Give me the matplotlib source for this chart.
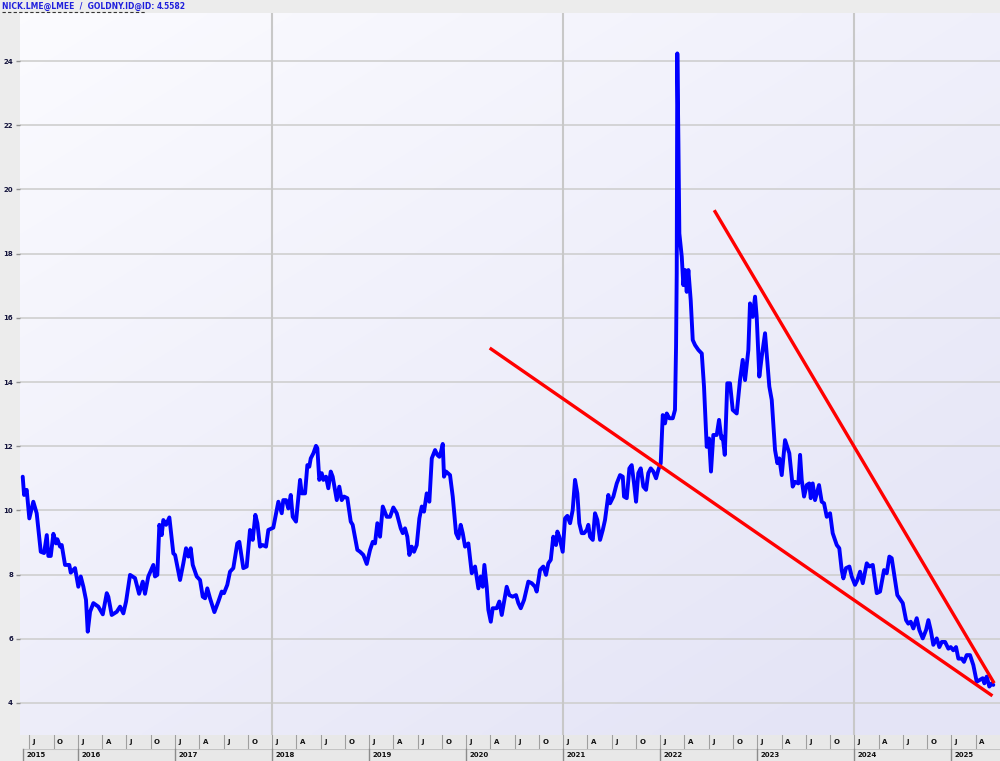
import numpy as np
import matplotlib.pyplot as plt
from matplotlib.patches import Rectangle
from matplotlib.lines import Line2D

# nickel / gold ratio (decimal years)
dates = [
    2015.431, 2015.445, 2015.472, 2015.499, 2015.540, 2015.575, 2015.617, 2015.651, 2015.679, 2015.695,
    2015.720, 2015.747, 2015.774, 2015.788, 2015.816, 2015.833, 2015.867, 2015.911, 2015.926, 2015.970,
    2016.004, 2016.029, 2016.056, 2016.083, 2016.101, 2016.125, 2016.159, 2016.210, 2016.256, 2016.297,
    2016.313, 2016.348, 2016.400, 2016.434, 2016.468, 2016.496, 2016.537, 2016.588, 2016.630, 2016.668,
    2016.691, 2016.725, 2016.777, 2016.794, 2016.818, 2016.839, 2016.863, 2016.880, 2016.908, 2016.942,
    2016.983, 2017.001, 2017.052, 2017.086, 2017.114, 2017.138, 2017.162, 2017.183, 2017.224, 2017.258,
    2017.286, 2017.310, 2017.333, 2017.361, 2017.406, 2017.447, 2017.482, 2017.505, 2017.539, 2017.567,
    2017.601, 2017.642, 2017.663, 2017.704, 2017.739, 2017.773, 2017.801, 2017.828, 2017.849, 2017.876,
    2017.904, 2017.938, 2017.962, 2018.013, 2018.065, 2018.100, 2018.116, 2018.144, 2018.168, 2018.193,
    2018.213, 2018.247, 2018.289, 2018.306, 2018.340, 2018.364, 2018.384, 2018.399, 2018.426, 2018.453,
    2018.467, 2018.487, 2018.512, 2018.529, 2018.556, 2018.580, 2018.605, 2018.625, 2018.667, 2018.693,
    2018.718, 2018.742, 2018.776, 2018.811, 2018.831, 2018.879, 2018.907, 2018.941, 2018.976, 2019.010,
    2019.038, 2019.061, 2019.085, 2019.113, 2019.141, 2019.182, 2019.216, 2019.250, 2019.285, 2019.326,
    2019.347, 2019.370, 2019.394, 2019.415, 2019.439, 2019.463, 2019.491, 2019.518, 2019.543, 2019.566,
    2019.594, 2019.621, 2019.646, 2019.680, 2019.703, 2019.724, 2019.741, 2019.759, 2019.772, 2019.793,
    2019.834, 2019.862, 2019.896, 2019.920, 2019.944, 2019.965, 2019.989, 2020.023, 2020.058, 2020.092,
    2020.126, 2020.150, 2020.171, 2020.188, 2020.212, 2020.229, 2020.254, 2020.274, 2020.315, 2020.342,
    2020.367, 2020.418, 2020.445, 2020.480, 2020.514, 2020.538, 2020.563, 2020.597, 2020.641, 2020.676,
    2020.710, 2020.727, 2020.761, 2020.795, 2020.823, 2020.847, 2020.872, 2020.898, 2020.926, 2020.940,
    2020.960, 2020.995, 2021.019, 2021.043, 2021.071, 2021.098, 2021.122, 2021.146, 2021.166, 2021.191,
    2021.215, 2021.243, 2021.259, 2021.277, 2021.305, 2021.328, 2021.352, 2021.380, 2021.408, 2021.431,
    2021.465, 2021.483, 2021.517, 2021.552, 2021.586, 2021.614, 2021.627, 2021.655, 2021.682, 2021.706,
    2021.730, 2021.751, 2021.774, 2021.799, 2021.826, 2021.854, 2021.877, 2021.902, 2021.929, 2021.957,
    2021.980, 2022.005, 2022.026, 2022.049, 2022.067, 2022.094, 2022.129, 2022.152, 2022.163, 2022.170,
    2022.176, 2022.187, 2022.197, 2022.222, 2022.238, 2022.256, 2022.273, 2022.290, 2022.314, 2022.335,
    2022.359, 2022.393, 2022.428, 2022.451, 2022.479, 2022.503, 2022.523, 2022.547, 2022.582, 2022.606,
    2022.630, 2022.644, 2022.665, 2022.691, 2022.719, 2022.747, 2022.788, 2022.822, 2022.850, 2022.874,
    2022.908, 2022.925, 2022.953, 2022.977, 2022.994, 2023.021, 2023.046, 2023.080, 2023.124, 2023.149,
    2023.183, 2023.207, 2023.227, 2023.252, 2023.286, 2023.330, 2023.365, 2023.389, 2023.423, 2023.441,
    2023.458, 2023.482, 2023.510, 2023.536, 2023.551, 2023.571, 2023.595, 2023.613, 2023.636, 2023.664,
    2023.688, 2023.716, 2023.750, 2023.777, 2023.819, 2023.845, 2023.870, 2023.887, 2023.914, 2023.949,
    2023.973, 2024.007, 2024.031, 2024.059, 2024.087, 2024.128, 2024.155, 2024.190, 2024.231, 2024.265,
    2024.306, 2024.334, 2024.361, 2024.385, 2024.409, 2024.443, 2024.499, 2024.533, 2024.556, 2024.581,
    2024.608, 2024.643, 2024.670, 2024.705, 2024.739, 2024.763, 2024.787, 2024.814, 2024.849, 2024.876,
    2024.901, 2024.935, 2024.969, 2024.993, 2025.020, 2025.048, 2025.072, 2025.107, 2025.130, 2025.158,
    2025.192, 2025.226, 2025.261, 2025.295, 2025.323, 2025.340, 2025.364, 2025.391, 2025.416, 2025.432,
]
ratio = [
    11.05, 10.48, 10.64, 9.75, 10.27, 9.91, 8.71, 8.67, 9.23, 8.58,
    8.58, 9.27, 8.97, 9.10, 8.87, 8.92, 8.30, 8.30, 8.06, 8.20,
    7.62, 7.94, 7.62, 7.21, 6.22, 6.84, 7.11, 7.00, 6.76, 7.42,
    7.31, 6.74, 6.84, 7.00, 6.79, 7.16, 7.99, 7.89, 7.40, 7.78,
    7.40, 7.94, 8.30, 7.94, 7.99, 9.55, 9.23, 9.70, 9.55, 9.78,
    8.66, 8.61, 7.83, 8.35, 8.82, 8.56, 8.82, 8.30, 7.94, 7.83,
    7.31, 7.26, 7.57, 7.26, 6.83, 7.16, 7.47, 7.42, 7.68, 8.09,
    8.20, 8.97, 9.02, 8.20, 8.25, 9.39, 9.08, 9.86, 9.60, 8.87,
    8.92, 8.87, 9.39, 9.46, 10.27, 9.91, 10.32, 10.32, 10.06, 10.48,
    9.80, 9.65, 10.95, 10.53, 10.53, 11.41, 11.36, 11.62, 11.78, 12.01,
    11.94, 10.95, 11.16, 10.95, 11.05, 10.69, 11.21, 11.05, 10.32, 10.74,
    10.32, 10.43, 10.38, 9.65, 9.55, 8.77, 8.71, 8.61, 8.33, 8.77,
    9.02, 8.97, 9.60, 9.18, 10.12, 9.80, 9.80, 10.09, 9.91, 9.44,
    9.29, 9.44, 9.18, 8.61, 8.87, 8.71, 8.92, 9.75, 10.12, 9.96,
    10.53, 10.27, 11.62, 11.88, 11.73, 11.67, 11.83, 12.07, 11.05, 11.21,
    11.10, 10.43, 9.29, 9.13, 9.55, 9.29, 8.87, 8.97, 8.04, 8.25,
    7.57, 7.94, 7.62, 8.30, 7.62, 6.90, 6.53, 6.95, 6.95, 7.16,
    6.74, 7.62, 7.36, 7.31, 7.36, 7.11, 6.95, 7.21, 7.78, 7.73,
    7.62, 7.47, 8.14, 8.25, 7.99, 8.35, 8.46, 9.18, 8.92, 9.34,
    9.18, 8.71, 9.75, 9.83, 9.60, 10.01, 10.95, 10.53, 9.60, 9.29,
    9.29, 9.39, 9.55, 9.18, 9.08, 9.91, 9.70, 9.08, 9.39, 9.70,
    10.48, 10.22, 10.43, 10.84, 11.10, 11.05, 10.43, 10.38, 11.31, 11.41,
    10.84, 10.27, 11.16, 11.31, 10.74, 10.64, 11.16, 11.31, 11.21, 11.00,
    11.26, 11.47, 12.97, 12.71, 13.02, 12.87, 12.87, 13.13, 15.10, 17.39,
    24.24, 21.54, 18.63, 17.90, 17.02, 17.49, 16.81, 17.49, 16.55, 15.31,
    15.15, 15.00, 14.89, 13.86, 11.98, 12.24, 11.21, 12.35, 12.35, 12.82,
    12.24, 12.30, 11.73, 13.96, 13.96, 13.13, 13.02, 14.06, 14.69, 14.06,
    15.00, 16.45, 16.03, 16.66, 16.03, 14.17, 14.79, 15.52, 13.86, 13.44,
    11.88, 11.47, 11.62, 11.10, 12.19, 11.78, 10.74, 10.89, 10.84, 11.73,
    10.95, 10.43, 10.79, 10.84, 10.38, 10.84, 10.32, 10.53, 10.79, 10.27,
    10.22, 9.80, 9.91, 9.29, 8.92, 8.82, 8.14, 7.88, 8.20, 8.25,
    7.94, 7.68, 7.83, 8.09, 7.73, 8.35, 8.25, 8.30, 7.42, 7.47,
    8.14, 8.04, 8.56, 8.51, 8.04, 7.36, 7.11, 6.58, 6.47, 6.53,
    6.32, 6.64, 6.27, 6.01, 6.27, 6.58, 6.27, 5.81, 6.01, 5.74,
    5.90, 5.90, 5.69, 5.74, 5.64, 5.74, 5.38, 5.38, 5.28, 5.49,
    5.49, 5.18, 4.66, 4.72, 4.77, 4.61, 4.82, 4.51, 4.61, 4.56,
]

# hand-drawn trend lines
support_x = [2020.257, 2025.409]
support_y = [15.03, 4.25]
resist_x = [2022.565, 2025.432]
resist_y = [19.31, 4.66]

y_ticks = list(range(4, 25, 2))
quarter_letters = ['J', 'A', 'J', 'O']
years = list(range(2015, 2026))
vgrid_years = [2018, 2021, 2024]
header_label = 'NICK.LME@LMEE  /  GOLDNY.ID@ID:'
header_value = '4.5582'

X0, X1 = 2015.403, 2025.501
Y0, Y1 = 3.0, 25.5
W, H = 1000, 761

fig = plt.figure(figsize=(10, 7.61), dpi=100, facecolor='#ececec')
ax = fig.add_axes([20 / W, 26 / H, 980 / W, 722 / H])
ax.set_xlim(X0, X1)
ax.set_ylim(Y0, Y1)

# soft lavender gradient background
u = np.linspace(0, 1, 200)[None, :]
v = np.linspace(0, 1, 200)[:, None]
t = np.clip(0.5 * u + 0.6 * v, 0, 1)
c_top = np.array([0.985, 0.985, 1.0])
c_bot = np.array([0.895, 0.895, 0.965])
img = c_top + (c_bot - c_top) * t[..., None]
ax.imshow(img, extent=[X0, X1, Y0, Y1], aspect='auto', origin='upper',
          zorder=0, interpolation='bilinear')

for y in y_ticks:
    ax.axhline(y, color='#cfcfcf', lw=1.2, zorder=1)
for yr in vgrid_years:
    ax.axvline(yr, color='#c8c8c8', lw=1.5, zorder=1)

ax.plot(dates, ratio, color='#0000ff', lw=2.8, zorder=3,
        solid_joinstyle='round', solid_capstyle='round')
ax.plot(support_x, support_y, color='#ff0000', lw=2.4, zorder=4)
ax.plot(resist_x, resist_y, color='#ff0000', lw=2.4, zorder=4)

for s in ax.spines.values():
    s.set_visible(False)
ax.set_xticks([])
ax.set_yticks(y_ticks)
ax.set_yticklabels([str(v) for v in y_ticks], fontsize=5, fontweight='bold', color='#14143c')
ax.tick_params(axis='y', length=3, width=1, color='#909090', pad=2)

# date strip: quarters on top row, years on bottom row
axb = fig.add_axes([20 / W, 0, 980 / W, 26 / H])
axb.set_xlim(X0, X1)
axb.set_ylim(0, 26)
axb.axis('off')
start = dates[0]
axb.add_patch(Rectangle((start, 0), X1 - start, 12, fc='#e8e8e8', ec='none'))
axb.add_patch(Rectangle((2015.5, 12.6), X1 - 2015.5, 13.4, fc='#e8e8e8', ec='none'))
axb.plot([start, X1], [12.3, 12.3], color='#c4c4c4', lw=0.8)

quarters = np.arange(2015.5, 2025.5, 0.25)
for q in quarters:
    axb.plot([q, q], [12.6, 26], color='#a0a0a0', lw=0.8)
    letter = quarter_letters[int(round((q % 1) * 4)) % 4]
    axb.text(q + 0.035, 19.3, letter, fontsize=5, fontweight='bold', color='#111111',
             va='center', ha='left')
for yr in years:
    x = max(yr, start)
    axb.plot([x, x], [0, 12], color='#8c8c8c', lw=1.0)
    axb.text(x + 0.035, 6, str(yr), fontsize=5, fontweight='bold', color='#111111',
             va='center', ha='left')

# header line
fig.text(2 / W, 1 - 6.5 / H, header_label, fontsize=5.5, fontweight='bold',
         color='#2020dd', va='center', ha='left')
fig.text(157 / W, 1 - 6.5 / H, header_value, fontsize=5.5, fontweight='bold',
         color='#2020dd', va='center', ha='left')
fig.add_artist(Line2D([2 / W, 145 / W], [1 - 12 / H, 1 - 12 / H], color='#333333',
                      lw=0.8, dashes=(3, 2), transform=fig.transFigure))

fig.savefig('out.png', dpi=100, facecolor=fig.get_facecolor())
